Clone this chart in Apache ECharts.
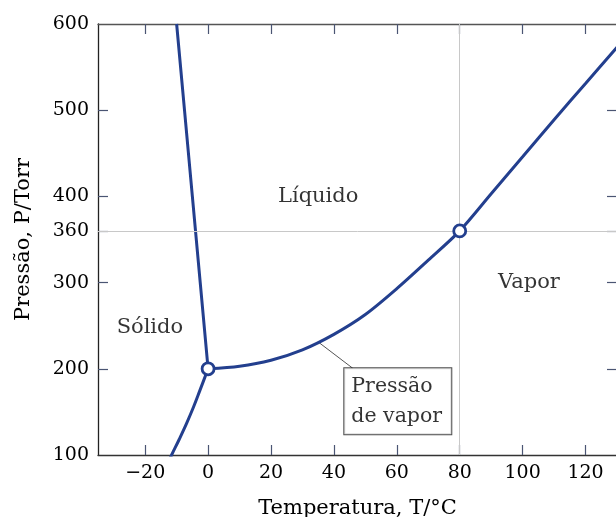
<!DOCTYPE html>
<html><head><meta charset="utf-8">
<script src="https://cdn.jsdelivr.net/npm/echarts@6/dist/echarts.min.js"></script>
<style>html,body{margin:0;padding:0;background:#fff}#c{width:616px;height:517px}</style>
</head><body><div id="c"></div>
<script>
const xTicks = [-20, 0, 20, 40, 60, 80, 100, 120];
const yLabels = [100, 200, 300, 360, 400, 500, 600];
const yTicks = [200, 300, 360, 400, 500];
const vaporT = [0, 10, 20, 30, 40, 50, 60, 70, 80, 90, 100, 110, 120, 130];
const vaporP = [200, 203, 210, 222, 240, 263, 293, 326, 360, 403, 446, 489, 531, 573];
const fusionT = [0, -2.5, -5, -7.5, -10];
const fusionP = [200, 300, 400, 500, 600];
const sublT = [0, -2.6, -4.6, -6.8, -9.2, -11.6, -13];
const sublP = [200, 175, 156, 137, 118, 100, 89];
const specialT = [0, 80];
const specialP = [200, 360];
const refT = 80, refP = 360;
const regionNames = ['Sólido', 'Líquido', 'Vapor'];
const regionT = [-18.5, 35, 102];
const regionP = [248, 400, 300];
const calloutText = 'Pressão\nde vapor';
const calloutAnchor = [43.3, 200.6];
const leaderT = [35.3, 46.0];
const leaderP = [230.3, 200.6];

const FONT = 'DejaVu Serif';
const BLUE = '#233f8e';
const zip = (a, b) => a.map((v, i) => [v, b[i]]);

const chart = echarts.init(document.getElementById('c'));
const tickStyle = { color: '#4a5573', width: 1.2 };
chart.setOption({
  animation: false,
  backgroundColor: '#fff',
  grid: { left: 98, top: 24, width: 519, height: 431, containLabel: false, outerBoundsMode: 'none' },
  xAxis: [{
    type: 'value', min: -35, max: 130, position: 'bottom',
    axisLine: { onZero: false, lineStyle: { color: '#333', width: 1.3 } },
    axisTick: { inside: true, length: 10, customValues: xTicks, lineStyle: tickStyle },
    axisLabel: { customValues: xTicks, formatter: v => v < 0 ? '\u2212' + Math.abs(v) : String(v),
      fontFamily: FONT, fontSize: 19, color: '#000', margin: 9 },
    splitLine: { show: false },
    name: 'Temperatura, T/°C', nameLocation: 'middle', nameGap: 43,
    nameTextStyle: { fontFamily: FONT, fontSize: 21, color: '#000' }
  }, {
    type: 'value', min: -35, max: 130, position: 'top',
    axisLine: { onZero: false, lineStyle: { color: '#555', width: 1.3 } },
    axisTick: { inside: true, length: 10, customValues: xTicks, lineStyle: tickStyle },
    axisLabel: { show: false }, splitLine: { show: false }
  }],
  yAxis: [{
    type: 'value', min: 100, max: 600, position: 'left',
    axisLine: { onZero: false, show: true, lineStyle: { color: '#222', width: 1.3 } },
    axisTick: { show: true, inside: true, length: 10, customValues: yTicks, lineStyle: tickStyle },
    axisLabel: { customValues: yLabels, fontFamily: FONT, fontSize: 19, color: '#000', margin: 9 },
    splitLine: { show: false },
    name: 'Pressão, P/Torr', nameLocation: 'middle', nameGap: 64,
    nameTextStyle: { fontFamily: FONT, fontSize: 21, color: '#000' }
  }, {
    type: 'value', min: 100, max: 600, position: 'right',
    axisLine: { onZero: false, show: true, lineStyle: { color: '#555', width: 1.3 } },
    axisTick: { show: true, inside: true, length: 10, customValues: yTicks, lineStyle: tickStyle },
    axisLabel: { show: false }, splitLine: { show: false }
  }],
  series: [
    {
      type: 'line', z: 1, data: zip(leaderT, leaderP), symbol: 'none', silent: true,
      lineStyle: { color: '#555', width: 1 },
      markLine: {
        silent: true, symbol: ['none', 'none'], label: { show: false },
        lineStyle: { color: '#c8c8c8', width: 1, type: 'solid' },
        data: [{ xAxis: refT }, { yAxis: refP }]
      }
    },
    { type: 'line', z: 3, data: zip(vaporT, vaporP), symbol: 'none', smooth: 0.3,
      lineStyle: { color: BLUE, width: 3 } },
    { type: 'line', z: 3, data: zip(fusionT, fusionP), symbol: 'none',
      lineStyle: { color: BLUE, width: 3 } },
    { type: 'line', z: 3, data: zip(sublT, sublP), symbol: 'none', smooth: 0.4,
      lineStyle: { color: BLUE, width: 3 } },
    { type: 'scatter', z: 5, data: zip(specialT, specialP), symbol: 'circle', symbolSize: 12,
      itemStyle: { color: '#fff', borderColor: BLUE, borderWidth: 2.8, opacity: 1 } },
    { type: 'scatter', z: 6, symbolSize: 0, silent: true,
      data: regionNames.map((n, i) => ({ name: n, value: [regionT[i], regionP[i]] })),
      label: { show: true, position: 'inside', formatter: '{b}', fontFamily: FONT, fontSize: 21, color: '#000' } },
    { type: 'scatter', z: 6, symbolSize: 0, silent: true,
      data: [{ name: calloutText, value: calloutAnchor }],
      label: { show: true, position: [0, 0], align: 'left', verticalAlign: 'top', formatter: '{b}',
        fontFamily: FONT, fontSize: 20.5, color: '#000', lineHeight: 30,
        width: 90, padding: [3, 10, 3, 7], borderColor: '#222', borderWidth: 1, backgroundColor: '#fff' } }
  ]
});
</script></body></html>
